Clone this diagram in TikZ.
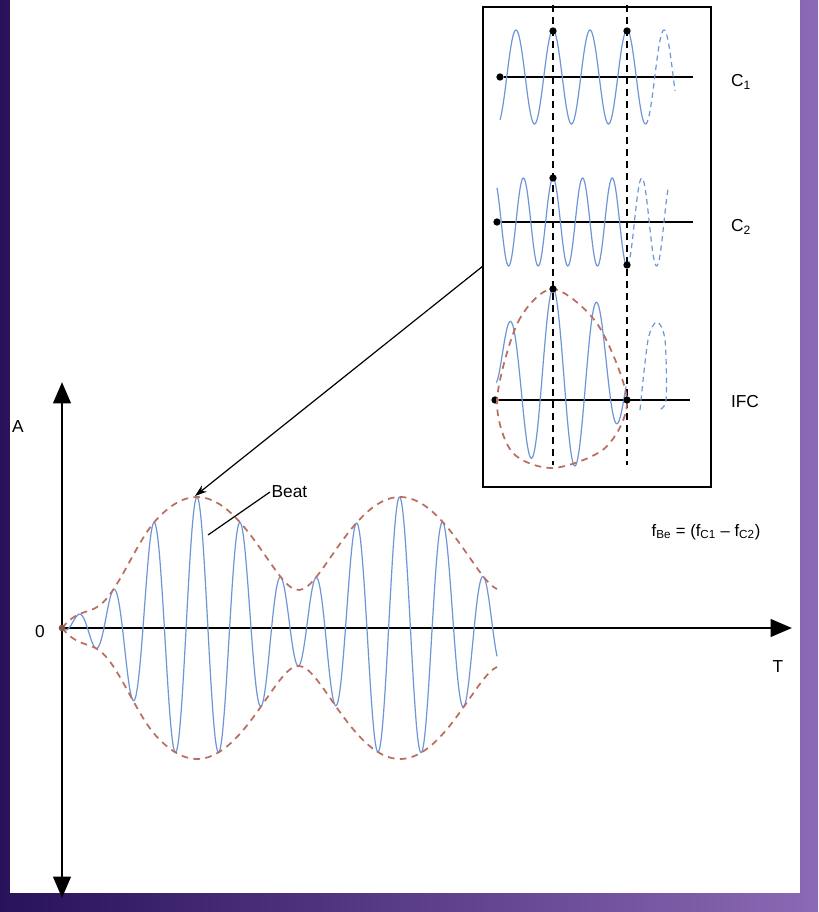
\documentclass[tikz,border=0pt]{standalone}
\usepackage{fontspec}
\setmainfont{Liberation Sans}
\usetikzlibrary{arrows.meta}
\definecolor{wave}{RGB}{110,150,215}
\definecolor{env}{RGB}{185,110,95}
\definecolor{bgdark}{RGB}{40,18,90}
\definecolor{bglight}{RGB}{140,105,180}
\begin{document}
\begin{tikzpicture}[x=0.75pt,y=-0.75pt,
  lbl/.style={font=\fontsize{13}{15}\selectfont,inner sep=1pt},
  axisline/.style={line width=2.2pt,-{Triangle[length=16pt,width=13pt]}},
  wv/.style={wave,line width=0.9pt},
  wvd/.style={wave,line width=0.9pt,dashed,dash pattern=on 4pt off 3pt},
  envd/.style={env,line width=1.3pt,dash pattern=on 5pt off 4pt},
  guide/.style={black,line width=1pt,dash pattern=on 5pt off 4pt},
  base/.style={black,line width=1.5pt},
  dot/.style={circle,fill=black,inner sep=0pt,minimum size=5.5pt}]
\useasboundingbox (0,0) rectangle (818,912);
\shade[left color=bgdark,right color=bglight] (0,0) rectangle (818,912);
\fill[white] (10,0) rectangle (800,893);
% main axes
\coordinate (o) at (62,628);
\coordinate (atop) at (62,382);
\coordinate (abot) at (62,898);
\coordinate (tend) at (792,628);
\draw[axisline] (o) -- (atop);
\draw[axisline] (o) -- (abot);
\draw[axisline] (o) -- (tend);
\node[lbl] (zero) at (40,632) {0};
\node[lbl] (A) at (18,427) {A};
\node[lbl] (T) at (778,667) {T};
% beat waveform
\draw[wv] plot[domain=62:497,samples=700,smooth] (\x,{628 - sin(min(90,0.95*(\x-62)))*(84.5*cos(8.8866*(\x-197)) + 46.5*cos(7.1132*(\x-197)))});
\draw[envd] plot[domain=62:497,samples=120,smooth] (\x,{628 - 10*sin(min(90,0.95*(\x-62)))*sqrt(93.02+78.59*cos(1.7734*(\x-197)))});
\draw[envd] plot[domain=62:497,samples=120,smooth] (\x,{628 + 10*sin(min(90,0.95*(\x-62)))*sqrt(93.02+78.59*cos(1.7734*(\x-197)))});
\fill[env!70!black] (o) circle (2.5pt);
% beat label
\node[lbl,anchor=west] (beat) at (270,492) {Beat};
\coordinate (beatpt) at (208,535);
\draw[line width=0.9pt] (beat.west) -- (beatpt);
% inset box
\node[draw,line width=1.6pt,minimum width=228*0.75pt,minimum height=480*0.75pt,inner sep=0pt] (box) at (597,247) {};
\coordinate (boxpt) at (483,266);
\coordinate (peak) at (195,496);
\draw[line width=0.9pt,-{Stealth[length=9pt,width=6pt]}] (boxpt) -- (peak);
% guides
\coordinate (g1t) at (553,5); \coordinate (g1b) at (553,465);
\coordinate (g2t) at (627,5); \coordinate (g2b) at (627,465);
\draw[guide] (g1t) -- (g1b);
\draw[guide] (g2t) -- (g2b);
% C1
\node[dot] (c1s) at (500,77) {};
\coordinate (c1e) at (693,77);
\draw[base] (c1s) -- (c1e);
\draw[wv] plot[domain=500:645,samples=200,smooth] (\x,{77-47*cos(9.7297*(\x-553))});
\draw[wvd] plot[domain=645:675,samples=40,smooth] (\x,{77-47*cos(9.7297*(\x-553))});
\node[dot] (c1a) at (553,31) {};
\node[dot] (c1b) at (627,31) {};
\node[lbl] (C1) at (741,82) {C\textsubscript{1}};
% C2
\node[dot] (c2s) at (497,222) {};
\coordinate (c2e) at (693,222);
\draw[base] (c2s) -- (c2e);
\draw[wv] plot[domain=497:627,samples=200,smooth] (\x,{222-44*cos(12.162*(\x-553))});
\draw[wvd] plot[domain=627:668,samples=50,smooth] (\x,{222-44*cos(12.162*(\x-553))});
\node[dot] (c2a) at (553,178) {};
\node[dot] (c2b) at (627,265) {};
\node[lbl] (C2) at (741,227) {C\textsubscript{2}};
% IFC
\node[dot] (is) at (495,400) {};
\coordinate (ie) at (690,400);
\draw[base] (is) -- (ie);
\draw[wv] plot[domain=496:626,samples=200,smooth] (\x,{378-90*sqrt(max(0,1-((\x-561)/66)^2))*cos(8.1818*(\x-553))});
\draw[envd] plot[smooth cycle] coordinates {(497,400) (518,322) (553,289) (598,325) (627,400) (605,448) (553,468) (512,452)};
\draw[wvd] plot[smooth] coordinates {(640,410) (648,340) (657,322) (665,340) (666,400) (658,410)};
\node[dot] (ia) at (553,289) {};
\node[dot] (ib) at (627,400) {};
\node[lbl] (IFC) at (745,402) {IFC};
% formula
\node[lbl,font=\fontsize{12.5}{15}\selectfont] (form) at (706,532) {f\textsubscript{Be} = (f\textsubscript{C1} -- f\textsubscript{C2})};
\end{tikzpicture}
\end{document}
